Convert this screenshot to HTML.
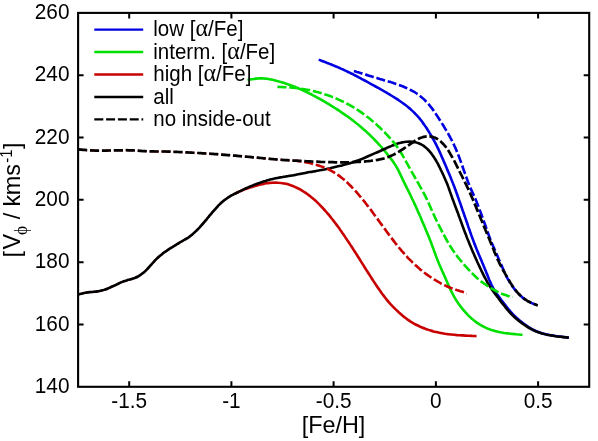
<!DOCTYPE html>
<html><head><meta charset="utf-8"><title>chart</title>
<style>
html,body{margin:0;padding:0;background:#fff;}
body{width:598px;height:441px;overflow:hidden;font-family:"Liberation Sans",sans-serif;}
svg{display:block;will-change:transform;}
text{font-family:"Liberation Sans",sans-serif;fill:#000;}
.sym{font-family:"Liberation Serif",serif;}
.al{font-family:"Liberation Serif",serif;font-size:24px;}
</style></head><body>
<svg width="598" height="441" viewBox="0 0 598 441">
<rect width="598" height="441" fill="#fff"/>
<g>
<path d="M318.7 59.6 C319.2 59.8 320.6 60.3 321.5 60.7 C322.4 61.0 323.4 61.4 324.3 61.8 C325.2 62.1 326.2 62.5 327.1 62.9 C328.0 63.2 328.9 63.6 329.9 64.0 C330.8 64.3 331.7 64.7 332.7 65.1 C333.6 65.5 334.5 65.9 335.4 66.3 C336.3 66.6 337.3 67.0 338.2 67.4 C339.1 67.8 340.0 68.2 340.9 68.6 C341.9 69.0 342.8 69.4 343.7 69.8 C344.6 70.3 345.5 70.7 346.4 71.1 C347.3 71.5 348.2 72.0 349.1 72.4 C350.0 72.8 350.9 73.3 351.8 73.7 C352.7 74.2 353.6 74.6 354.5 75.1 C355.3 75.6 356.2 76.0 357.1 76.5 C358.0 77.0 358.9 77.4 359.8 77.9 C360.7 78.4 361.5 78.8 362.4 79.3 C363.3 79.8 364.2 80.2 365.1 80.7 C365.9 81.2 366.8 81.7 367.7 82.1 C368.6 82.6 369.5 83.1 370.3 83.6 C371.2 84.1 372.1 84.5 373.0 85.0 C373.8 85.5 374.7 86.0 375.6 86.5 C376.5 87.0 377.3 87.5 378.2 87.9 C379.1 88.4 379.9 88.9 380.8 89.4 C381.7 89.9 382.6 90.4 383.4 90.9 C384.3 91.4 385.2 91.9 386.0 92.4 C386.9 92.9 387.7 93.4 388.6 93.9 C389.5 94.4 390.3 94.9 391.2 95.5 C392.0 96.0 392.9 96.5 393.7 97.0 C394.6 97.6 395.4 98.1 396.3 98.6 C397.1 99.2 398.0 99.7 398.8 100.3 C399.6 100.8 400.4 101.4 401.3 102.0 C402.1 102.5 402.9 103.1 403.7 103.7 C404.5 104.3 405.3 104.9 406.1 105.5 C406.9 106.1 407.7 106.7 408.4 107.4 C409.2 108.0 410.0 108.7 410.7 109.3 C411.4 110.0 412.2 110.7 412.9 111.4 C413.6 112.1 414.3 112.8 415.0 113.5 C415.7 114.2 416.4 114.9 417.1 115.6 C417.8 116.4 418.4 117.1 419.1 117.9 C419.7 118.7 420.3 119.4 420.9 120.2 C421.6 121.0 422.2 121.8 422.7 122.6 C423.3 123.4 423.9 124.2 424.5 125.1 C425.0 125.9 425.6 126.7 426.2 127.5 C426.7 128.4 427.3 129.2 427.8 130.1 C428.3 130.9 428.9 131.7 429.4 132.6 C429.9 133.4 430.4 134.3 430.9 135.2 C431.4 136.0 431.9 136.9 432.4 137.8 C432.9 138.6 433.4 139.5 433.9 140.4 C434.4 141.3 434.9 142.1 435.3 143.0 C435.8 143.9 436.2 144.8 436.7 145.7 C437.1 146.6 437.6 147.5 438.0 148.4 C438.4 149.3 438.9 150.2 439.3 151.1 C439.7 152.0 440.1 152.9 440.5 153.8 C440.9 154.7 441.3 155.7 441.7 156.6 C442.1 157.5 442.5 158.4 442.9 159.3 C443.3 160.2 443.7 161.2 444.1 162.1 C444.5 163.0 444.9 163.9 445.3 164.8 C445.7 165.8 446.1 166.7 446.5 167.6 C446.8 168.5 447.2 169.4 447.6 170.4 C448.0 171.3 448.4 172.2 448.8 173.1 C449.2 174.0 449.6 175.0 450.0 175.9 C450.3 176.8 450.7 177.7 451.1 178.7 C451.5 179.6 451.9 180.5 452.2 181.4 C452.6 182.4 453.0 183.3 453.3 184.2 C453.7 185.2 454.0 186.1 454.4 187.0 C454.8 188.0 455.1 188.9 455.4 189.8 C455.8 190.8 456.1 191.7 456.5 192.7 C456.8 193.6 457.1 194.6 457.5 195.5 C457.8 196.4 458.1 197.4 458.5 198.3 C458.8 199.3 459.1 200.2 459.5 201.2 C459.8 202.1 460.1 203.0 460.5 204.0 C460.8 204.9 461.1 205.9 461.4 206.8 C461.8 207.8 462.1 208.7 462.4 209.7 C462.8 210.6 463.1 211.5 463.4 212.5 C463.7 213.4 464.1 214.4 464.4 215.3 C464.7 216.3 465.1 217.2 465.4 218.2 C465.7 219.1 466.0 220.0 466.4 221.0 C466.7 221.9 467.0 222.9 467.3 223.8 C467.7 224.8 468.0 225.7 468.3 226.7 C468.7 227.6 469.0 228.5 469.3 229.5 C469.6 230.4 470.0 231.4 470.3 232.3 C470.6 233.3 471.0 234.2 471.3 235.2 C471.6 236.1 472.0 237.0 472.3 238.0 C472.7 238.9 473.0 239.9 473.4 240.8 C473.7 241.7 474.1 242.7 474.4 243.6 C474.8 244.5 475.2 245.5 475.5 246.4 C475.9 247.3 476.3 248.2 476.6 249.2 C477.0 250.1 477.4 251.0 477.8 251.9 C478.2 252.9 478.5 253.8 478.9 254.7 C479.3 255.6 479.7 256.6 480.1 257.5 C480.5 258.4 480.9 259.3 481.3 260.2 C481.6 261.2 482.0 262.1 482.4 263.0 C482.8 263.9 483.2 264.8 483.6 265.8 C484.0 266.7 484.4 267.6 484.7 268.5 C485.1 269.5 485.5 270.4 485.9 271.3 C486.2 272.2 486.6 273.2 487.0 274.1 C487.4 275.0 487.7 276.0 488.1 276.9 C488.5 277.8 488.8 278.7 489.2 279.7 C489.6 280.6 490.0 281.5 490.4 282.4 C490.8 283.3 491.2 284.2 491.6 285.1 C492.1 286.0 492.5 286.9 493.0 287.8 C493.5 288.7 494.0 289.5 494.5 290.4 C495.1 291.2 495.6 292.0 496.2 292.9 C496.7 293.7 497.3 294.5 497.9 295.3 C498.5 296.1 499.1 296.9 499.7 297.7 C500.3 298.5 500.9 299.4 501.5 300.2 C502.1 301.0 502.7 301.8 503.3 302.5 C503.9 303.3 504.5 304.1 505.1 304.9 C505.7 305.7 506.3 306.5 506.9 307.3 C507.5 308.1 508.1 308.9 508.8 309.6 C509.4 310.4 510.1 311.2 510.7 311.9 C511.4 312.7 512.1 313.4 512.7 314.1 C513.4 314.9 514.1 315.6 514.9 316.2 C515.6 316.9 516.3 317.6 517.1 318.3 C517.8 318.9 518.6 319.6 519.3 320.2 C520.1 320.9 520.9 321.5 521.7 322.1 C522.5 322.7 523.2 323.3 524.1 323.9 C524.9 324.5 525.7 325.1 526.5 325.7 C527.3 326.2 528.1 326.8 529.0 327.3 C529.8 327.8 530.7 328.4 531.5 328.8 C532.4 329.3 533.3 329.8 534.2 330.2 C535.1 330.7 536.0 331.1 536.9 331.5 C537.8 331.8 538.8 332.2 539.7 332.5 C540.6 332.8 541.6 333.1 542.5 333.4 C543.5 333.7 544.5 333.9 545.4 334.2 C546.4 334.4 547.4 334.6 548.4 334.8 C549.3 335.0 550.3 335.2 551.3 335.4 C552.3 335.5 553.3 335.7 554.3 335.8 C555.3 336.0 556.2 336.1 557.2 336.3 C558.2 336.4 559.2 336.5 560.2 336.6 C561.2 336.7 562.1 336.9 563.1 337.0 C564.1 337.1 565.0 337.2 566.0 337.3 C566.9 337.4 568.3 337.5 568.8 337.6" fill="none" stroke="#0000e0" stroke-width="2.6"/>
<path d="M247.5 80.0 C248.0 79.9 249.5 79.6 250.4 79.4 C251.4 79.3 252.4 79.1 253.4 79.0 C254.4 78.8 255.4 78.7 256.3 78.6 C257.3 78.5 258.3 78.5 259.3 78.4 C260.3 78.4 261.3 78.4 262.3 78.4 C263.3 78.5 264.3 78.5 265.3 78.6 C266.3 78.7 267.3 78.9 268.2 79.0 C269.2 79.2 270.2 79.3 271.2 79.5 C272.2 79.7 273.1 80.0 274.1 80.2 C275.1 80.4 276.0 80.7 277.0 81.0 C278.0 81.2 278.9 81.5 279.9 81.8 C280.9 82.0 281.8 82.3 282.8 82.6 C283.7 82.9 284.7 83.2 285.6 83.5 C286.6 83.8 287.5 84.1 288.5 84.5 C289.4 84.8 290.3 85.1 291.3 85.5 C292.2 85.8 293.2 86.2 294.1 86.6 C295.0 86.9 295.9 87.3 296.9 87.7 C297.8 88.1 298.7 88.5 299.6 88.9 C300.5 89.3 301.4 89.7 302.4 90.1 C303.3 90.5 304.2 90.9 305.1 91.4 C306.0 91.8 306.9 92.2 307.8 92.7 C308.7 93.1 309.6 93.6 310.5 94.0 C311.4 94.5 312.2 94.9 313.1 95.4 C314.0 95.8 314.9 96.3 315.8 96.8 C316.7 97.2 317.5 97.7 318.4 98.2 C319.3 98.7 320.2 99.2 321.1 99.6 C321.9 100.1 322.8 100.6 323.7 101.1 C324.5 101.6 325.4 102.1 326.2 102.6 C327.1 103.2 328.0 103.7 328.8 104.2 C329.7 104.7 330.5 105.2 331.4 105.8 C332.2 106.3 333.1 106.8 333.9 107.3 C334.8 107.9 335.6 108.4 336.4 109.0 C337.3 109.5 338.1 110.0 339.0 110.6 C339.8 111.1 340.6 111.7 341.5 112.3 C342.3 112.8 343.1 113.4 343.9 114.0 C344.8 114.5 345.6 115.1 346.4 115.7 C347.2 116.3 348.0 116.8 348.8 117.4 C349.6 118.0 350.4 118.6 351.2 119.2 C352.0 119.8 352.8 120.4 353.6 121.1 C354.4 121.7 355.2 122.3 356.0 122.9 C356.7 123.5 357.5 124.2 358.3 124.8 C359.1 125.4 359.8 126.1 360.6 126.7 C361.4 127.4 362.1 128.0 362.9 128.7 C363.6 129.3 364.4 130.0 365.1 130.6 C365.9 131.3 366.6 132.0 367.3 132.7 C368.1 133.3 368.8 134.0 369.5 134.7 C370.2 135.4 371.0 136.1 371.7 136.8 C372.4 137.5 373.1 138.2 373.8 138.9 C374.5 139.6 375.2 140.4 375.9 141.1 C376.6 141.8 377.3 142.5 377.9 143.3 C378.6 144.0 379.3 144.7 380.0 145.5 C380.6 146.2 381.3 147.0 382.0 147.7 C382.6 148.5 383.3 149.2 383.9 150.0 C384.6 150.7 385.2 151.5 385.8 152.3 C386.5 153.1 387.1 153.8 387.7 154.6 C388.4 155.4 389.0 156.2 389.6 157.0 C390.2 157.8 390.8 158.6 391.4 159.4 C392.0 160.2 392.6 161.0 393.2 161.8 C393.7 162.6 394.3 163.4 394.8 164.3 C395.4 165.1 395.9 165.9 396.4 166.8 C396.9 167.7 397.4 168.5 397.9 169.4 C398.3 170.3 398.8 171.2 399.2 172.1 C399.6 173.0 400.1 173.9 400.5 174.8 C400.9 175.7 401.3 176.6 401.8 177.5 C402.2 178.4 402.6 179.3 403.0 180.2 C403.5 181.1 403.9 182.0 404.4 182.9 C404.8 183.8 405.2 184.7 405.7 185.6 C406.1 186.5 406.6 187.4 407.0 188.3 C407.5 189.2 407.9 190.1 408.4 191.0 C408.8 191.9 409.3 192.8 409.7 193.7 C410.2 194.6 410.6 195.5 411.0 196.4 C411.5 197.3 411.9 198.2 412.3 199.1 C412.8 200.0 413.2 200.9 413.6 201.8 C414.0 202.7 414.4 203.6 414.9 204.5 C415.3 205.4 415.7 206.3 416.1 207.2 C416.5 208.1 416.9 209.1 417.3 210.0 C417.7 210.9 418.1 211.8 418.5 212.7 C418.9 213.6 419.4 214.5 419.8 215.5 C420.2 216.4 420.6 217.3 421.0 218.2 C421.4 219.1 421.7 220.0 422.1 221.0 C422.5 221.9 422.9 222.8 423.3 223.7 C423.7 224.6 424.1 225.6 424.5 226.5 C424.9 227.4 425.3 228.3 425.6 229.2 C426.0 230.2 426.4 231.1 426.8 232.0 C427.2 232.9 427.6 233.9 427.9 234.8 C428.3 235.7 428.7 236.6 429.1 237.6 C429.4 238.5 429.8 239.4 430.2 240.4 C430.5 241.3 430.9 242.2 431.3 243.2 C431.6 244.1 432.0 245.0 432.3 246.0 C432.7 246.9 433.0 247.8 433.4 248.8 C433.7 249.7 434.0 250.7 434.4 251.6 C434.7 252.5 435.1 253.5 435.4 254.4 C435.7 255.4 436.1 256.3 436.4 257.2 C436.8 258.2 437.2 259.1 437.5 260.0 C437.9 261.0 438.3 261.9 438.7 262.8 C439.0 263.7 439.4 264.6 439.8 265.6 C440.2 266.5 440.6 267.4 441.0 268.3 C441.4 269.2 441.8 270.1 442.2 271.1 C442.6 272.0 443.1 272.9 443.5 273.8 C443.9 274.7 444.3 275.6 444.7 276.5 C445.1 277.5 445.5 278.4 445.9 279.3 C446.3 280.2 446.7 281.1 447.1 282.0 C447.5 283.0 447.9 283.9 448.3 284.8 C448.7 285.7 449.1 286.6 449.5 287.5 C449.9 288.4 450.3 289.3 450.8 290.2 C451.2 291.1 451.6 292.0 452.1 292.9 C452.6 293.8 453.0 294.7 453.5 295.6 C454.0 296.5 454.5 297.3 455.0 298.2 C455.5 299.0 456.0 299.9 456.6 300.7 C457.1 301.6 457.7 302.4 458.2 303.2 C458.8 304.0 459.4 304.8 460.0 305.6 C460.6 306.4 461.2 307.2 461.8 308.0 C462.4 308.8 463.1 309.6 463.7 310.3 C464.4 311.1 465.0 311.8 465.7 312.6 C466.4 313.3 467.1 314.0 467.7 314.8 C468.4 315.5 469.1 316.2 469.9 316.9 C470.6 317.6 471.3 318.2 472.1 318.9 C472.8 319.5 473.6 320.2 474.4 320.8 C475.2 321.4 476.0 322.0 476.8 322.6 C477.6 323.2 478.4 323.7 479.3 324.2 C480.1 324.8 481.0 325.3 481.8 325.8 C482.7 326.2 483.6 326.7 484.5 327.1 C485.4 327.6 486.3 328.0 487.2 328.4 C488.1 328.7 489.0 329.1 490.0 329.5 C490.9 329.8 491.9 330.1 492.8 330.4 C493.8 330.7 494.7 331.0 495.7 331.2 C496.7 331.5 497.6 331.7 498.6 331.9 C499.6 332.1 500.6 332.3 501.5 332.5 C502.5 332.7 503.5 332.8 504.5 333.0 C505.5 333.1 506.5 333.3 507.5 333.4 C508.5 333.5 509.4 333.6 510.4 333.7 C511.4 333.8 512.4 333.9 513.4 334.0 C514.4 334.1 515.3 334.2 516.3 334.3 C517.2 334.3 518.1 334.4 519.0 334.5 C519.9 334.6 521.1 334.7 521.6 334.7 C522.2 334.8 522.4 334.8 522.5 334.8" fill="none" stroke="#00e000" stroke-width="2.6"/>
<path d="M78.1 294.6 C78.6 294.5 80.0 294.1 81.0 293.8 C82.0 293.6 82.9 293.3 83.9 293.1 C84.9 292.9 85.9 292.7 86.8 292.5 C87.8 292.3 88.8 292.2 89.8 292.1 C90.8 292.0 91.8 291.9 92.8 291.9 C93.8 291.8 94.8 291.7 95.8 291.6 C96.8 291.5 97.8 291.3 98.8 291.2 C99.7 291.0 100.7 290.8 101.7 290.5 C102.7 290.3 103.6 290.0 104.6 289.7 C105.5 289.4 106.5 289.1 107.4 288.7 C108.3 288.3 109.2 287.9 110.1 287.5 C111.1 287.1 112.0 286.7 112.9 286.2 C113.8 285.8 114.7 285.4 115.6 285.0 C116.5 284.6 117.4 284.1 118.3 283.7 C119.2 283.3 120.1 282.9 121.0 282.4 C121.9 282.0 122.9 281.7 123.8 281.3 C124.7 281.0 125.7 280.7 126.7 280.4 C127.6 280.1 128.6 279.8 129.5 279.6 C130.5 279.3 131.5 279.1 132.4 278.8 C133.4 278.5 134.3 278.1 135.2 277.8 C136.2 277.4 137.1 277.0 138.0 276.5 C138.8 276.0 139.7 275.5 140.5 274.9 C141.3 274.4 142.1 273.8 142.9 273.1 C143.7 272.5 144.4 271.8 145.2 271.2 C145.9 270.5 146.6 269.8 147.3 269.0 C148.0 268.3 148.6 267.6 149.3 266.8 C150.0 266.1 150.6 265.3 151.3 264.6 C151.9 263.8 152.6 263.0 153.3 262.3 C153.9 261.6 154.6 260.8 155.3 260.1 C156.0 259.4 156.7 258.7 157.5 258.0 C158.2 257.3 158.9 256.7 159.7 256.0 C160.5 255.4 161.3 254.8 162.0 254.2 C162.8 253.5 163.6 252.9 164.4 252.3 C165.2 251.7 166.0 251.2 166.9 250.6 C167.7 250.0 168.5 249.4 169.3 248.9 C170.2 248.4 171.0 247.8 171.9 247.3 C172.7 246.8 173.6 246.3 174.4 245.8 C175.3 245.2 176.2 244.7 177.0 244.2 C177.9 243.7 178.7 243.2 179.6 242.6 C180.4 242.1 181.3 241.6 182.2 241.1 C183.0 240.6 183.9 240.1 184.8 239.6 C185.6 239.1 186.5 238.7 187.4 238.2 C188.2 237.6 189.1 237.1 189.8 236.5 C190.6 235.9 191.4 235.2 192.2 234.6 C192.9 233.9 193.7 233.2 194.4 232.6 C195.1 231.9 195.8 231.2 196.6 230.5 C197.3 229.8 198.0 229.1 198.7 228.4 C199.4 227.6 200.1 226.9 200.7 226.2 C201.4 225.4 202.1 224.7 202.7 223.9 C203.4 223.2 204.0 222.4 204.7 221.6 C205.3 220.9 205.9 220.1 206.6 219.3 C207.2 218.5 207.8 217.8 208.5 217.0 C209.1 216.2 209.7 215.5 210.4 214.7 C211.0 213.9 211.7 213.2 212.3 212.4 C213.0 211.7 213.7 210.9 214.3 210.2 C215.0 209.4 215.6 208.7 216.3 207.9 C217.0 207.2 217.6 206.4 218.3 205.7 C219.0 205.0 219.7 204.3 220.4 203.6 C221.2 202.9 221.9 202.2 222.7 201.5 C223.4 200.9 224.2 200.3 225.0 199.7 C225.8 199.1 226.6 198.5 227.4 198.0 C228.3 197.4 229.1 196.8 230.0 196.3 C230.8 195.8 231.7 195.4 232.6 194.9 C233.5 194.4 234.4 194.0 235.3 193.5 C236.2 193.1 237.5 192.4 238.0 192.2" fill="none" stroke="#c80000" stroke-width="1.9"/>
<path d="M235.3 193.5 C235.7 193.3 237.1 192.6 238.0 192.2 C238.9 191.8 239.8 191.4 240.7 191.0 C241.6 190.6 242.5 190.2 243.5 189.8 C244.4 189.5 245.3 189.1 246.3 188.8 C247.2 188.4 248.2 188.1 249.1 187.8 C250.1 187.5 251.0 187.2 252.0 186.9 C252.9 186.6 253.9 186.3 254.8 186.0 C255.8 185.8 256.8 185.5 257.7 185.2 C258.7 185.0 259.7 184.7 260.6 184.5 C261.6 184.3 262.6 184.1 263.6 183.9 C264.5 183.7 265.5 183.5 266.5 183.3 C267.5 183.2 268.5 183.0 269.5 182.9 C270.5 182.8 271.5 182.7 272.4 182.7 C273.4 182.6 274.4 182.6 275.4 182.6 C276.4 182.6 277.4 182.6 278.4 182.7 C279.4 182.7 280.4 182.8 281.4 183.0 C282.4 183.1 283.3 183.3 284.3 183.5 C285.3 183.7 286.3 183.9 287.2 184.1 C288.2 184.4 289.1 184.7 290.1 185.0 C291.0 185.3 292.0 185.6 292.9 186.0 C293.8 186.4 294.7 186.7 295.6 187.2 C296.5 187.6 297.4 188.0 298.3 188.5 C299.2 188.9 300.1 189.4 301.0 189.9 C301.8 190.4 302.7 190.9 303.5 191.5 C304.3 192.0 305.2 192.5 306.0 193.1 C306.8 193.7 307.6 194.3 308.4 194.9 C309.2 195.5 310.0 196.1 310.8 196.7 C311.6 197.3 312.3 198.0 313.1 198.6 C313.8 199.3 314.6 199.9 315.3 200.6 C316.1 201.3 316.8 202.0 317.5 202.7 C318.2 203.4 318.9 204.1 319.7 204.8 C320.4 205.5 321.0 206.2 321.7 206.9 C322.4 207.6 323.1 208.4 323.8 209.1 C324.4 209.9 325.1 210.6 325.8 211.4 C326.4 212.1 327.1 212.9 327.7 213.6 C328.4 214.4 329.0 215.2 329.7 215.9 C330.3 216.7 330.9 217.5 331.5 218.3 C332.2 219.0 332.8 219.8 333.4 220.6 C334.0 221.4 334.6 222.2 335.2 223.0 C335.8 223.8 336.4 224.6 337.0 225.4 C337.6 226.2 338.2 227.0 338.8 227.8 C339.4 228.6 339.9 229.4 340.5 230.3 C341.1 231.1 341.7 231.9 342.2 232.7 C342.8 233.5 343.4 234.4 344.0 235.2 C344.5 236.0 345.1 236.8 345.6 237.7 C346.2 238.5 346.8 239.3 347.3 240.2 C347.9 241.0 348.4 241.8 349.0 242.7 C349.5 243.5 350.1 244.3 350.6 245.2 C351.2 246.0 351.7 246.8 352.3 247.7 C352.8 248.5 353.3 249.4 353.9 250.2 C354.4 251.0 355.0 251.9 355.5 252.7 C356.0 253.6 356.6 254.4 357.1 255.3 C357.6 256.1 358.2 257.0 358.7 257.8 C359.2 258.6 359.8 259.5 360.3 260.3 C360.8 261.2 361.4 262.0 361.9 262.9 C362.4 263.7 363.0 264.6 363.5 265.4 C364.0 266.3 364.6 267.1 365.1 268.0 C365.6 268.8 366.2 269.6 366.7 270.5 C367.2 271.3 367.8 272.2 368.3 273.0 C368.8 273.9 369.4 274.7 369.9 275.5 C370.5 276.4 371.0 277.2 371.5 278.1 C372.1 278.9 372.6 279.7 373.2 280.6 C373.7 281.4 374.3 282.3 374.8 283.1 C375.4 283.9 375.9 284.8 376.5 285.6 C377.1 286.4 377.6 287.2 378.2 288.1 C378.8 288.9 379.3 289.7 379.9 290.5 C380.5 291.3 381.1 292.2 381.6 293.0 C382.2 293.8 382.8 294.6 383.4 295.4 C384.0 296.2 384.6 297.0 385.2 297.8 C385.8 298.6 386.5 299.3 387.1 300.1 C387.7 300.9 388.4 301.7 389.0 302.4 C389.7 303.2 390.3 303.9 391.0 304.7 C391.7 305.4 392.4 306.1 393.1 306.8 C393.8 307.5 394.5 308.2 395.2 308.9 C395.9 309.6 396.6 310.3 397.4 311.0 C398.1 311.7 398.8 312.4 399.6 313.0 C400.3 313.7 401.1 314.3 401.8 315.0 C402.6 315.6 403.4 316.3 404.1 316.9 C404.9 317.5 405.7 318.2 406.5 318.7 C407.3 319.3 408.1 319.9 408.9 320.5 C409.8 321.0 410.6 321.6 411.5 322.1 C412.3 322.6 413.2 323.1 414.0 323.6 C414.9 324.1 415.8 324.6 416.7 325.0 C417.6 325.5 418.5 325.9 419.4 326.3 C420.3 326.8 421.2 327.2 422.1 327.5 C423.0 327.9 424.0 328.3 424.9 328.6 C425.8 329.0 426.8 329.3 427.7 329.6 C428.7 330.0 429.6 330.3 430.6 330.5 C431.5 330.8 432.5 331.1 433.5 331.4 C434.4 331.6 435.4 331.9 436.4 332.1 C437.3 332.3 438.3 332.5 439.3 332.7 C440.3 332.9 441.2 333.1 442.2 333.3 C443.2 333.5 444.2 333.6 445.2 333.8 C446.2 333.9 447.2 334.1 448.2 334.2 C449.1 334.3 450.1 334.4 451.1 334.5 C452.1 334.6 453.1 334.7 454.1 334.8 C455.1 334.9 456.1 335.0 457.1 335.1 C458.1 335.1 459.1 335.2 460.1 335.3 C461.1 335.3 462.1 335.4 463.1 335.4 C464.1 335.5 465.1 335.6 466.1 335.6 C467.1 335.7 468.1 335.7 469.0 335.8 C470.0 335.8 471.0 335.8 471.9 335.9 C472.8 335.9 473.9 336.0 474.7 336.0 C475.4 336.1 476.2 336.1 476.5 336.1" fill="none" stroke="#c80000" stroke-width="2.6"/>
<path d="M78.1 294.6 C78.6 294.5 80.0 294.1 81.0 293.8 C82.0 293.6 82.9 293.3 83.9 293.1 C84.9 292.9 85.9 292.7 86.8 292.5 C87.8 292.3 88.8 292.2 89.8 292.1 C90.8 292.0 91.8 291.9 92.8 291.9 C93.8 291.8 94.8 291.7 95.8 291.6 C96.8 291.5 97.8 291.3 98.8 291.2 C99.7 291.0 100.7 290.8 101.7 290.5 C102.7 290.3 103.6 290.0 104.6 289.7 C105.5 289.4 106.5 289.1 107.4 288.7 C108.3 288.3 109.2 287.9 110.1 287.5 C111.1 287.1 112.0 286.7 112.9 286.2 C113.8 285.8 114.7 285.4 115.6 285.0 C116.5 284.6 117.4 284.1 118.3 283.7 C119.2 283.3 120.1 282.9 121.0 282.4 C121.9 282.0 122.9 281.7 123.8 281.3 C124.7 281.0 125.7 280.7 126.7 280.4 C127.6 280.1 128.6 279.8 129.5 279.6 C130.5 279.3 131.5 279.1 132.4 278.8 C133.4 278.5 134.3 278.1 135.2 277.8 C136.2 277.4 137.1 277.0 138.0 276.5 C138.8 276.0 139.7 275.5 140.5 274.9 C141.3 274.4 142.1 273.8 142.9 273.1 C143.7 272.5 144.4 271.8 145.2 271.2 C145.9 270.5 146.6 269.8 147.3 269.0 C148.0 268.3 148.6 267.6 149.3 266.8 C150.0 266.1 150.6 265.3 151.3 264.6 C151.9 263.8 152.6 263.0 153.3 262.3 C153.9 261.6 154.6 260.8 155.3 260.1 C156.0 259.4 156.7 258.7 157.5 258.0 C158.2 257.3 158.9 256.7 159.7 256.0 C160.5 255.4 161.3 254.8 162.0 254.2 C162.8 253.5 163.6 252.9 164.4 252.3 C165.2 251.7 166.0 251.2 166.9 250.6 C167.7 250.0 168.5 249.4 169.3 248.9 C170.2 248.4 171.0 247.8 171.9 247.3 C172.7 246.8 173.6 246.3 174.4 245.8 C175.3 245.2 176.2 244.7 177.0 244.2 C177.9 243.7 178.7 243.2 179.6 242.6 C180.4 242.1 181.3 241.6 182.2 241.1 C183.0 240.6 183.9 240.1 184.8 239.6 C185.6 239.1 186.5 238.7 187.4 238.2 C188.2 237.6 189.1 237.1 189.8 236.5 C190.6 235.9 191.4 235.2 192.2 234.6 C192.9 233.9 193.7 233.2 194.4 232.6 C195.1 231.9 195.8 231.2 196.6 230.5 C197.3 229.8 198.0 229.1 198.7 228.4 C199.4 227.6 200.1 226.9 200.7 226.2 C201.4 225.4 202.1 224.7 202.7 223.9 C203.4 223.2 204.0 222.4 204.7 221.6 C205.3 220.9 205.9 220.1 206.6 219.3 C207.2 218.5 207.8 217.8 208.5 217.0 C209.1 216.2 209.7 215.5 210.4 214.7 C211.0 213.9 211.7 213.2 212.3 212.4 C213.0 211.7 213.7 210.9 214.3 210.2 C215.0 209.4 215.6 208.7 216.3 207.9 C217.0 207.2 217.6 206.4 218.3 205.7 C219.0 205.0 219.7 204.3 220.4 203.6 C221.2 202.9 221.9 202.2 222.7 201.5 C223.4 200.9 224.2 200.3 225.0 199.7 C225.8 199.1 226.6 198.5 227.4 198.0 C228.3 197.4 229.1 196.9 230.0 196.3 C230.8 195.8 231.7 195.4 232.6 194.9 C233.5 194.4 234.4 194.0 235.3 193.5 C236.2 193.1 237.1 192.6 238.0 192.2 C238.8 191.7 239.7 191.3 240.7 190.9 C241.6 190.4 242.5 190.0 243.4 189.6 C244.3 189.2 245.2 188.7 246.1 188.3 C247.0 187.9 247.9 187.5 248.8 187.1 C249.7 186.7 250.7 186.3 251.6 185.9 C252.5 185.5 253.4 185.2 254.3 184.8 C255.3 184.4 256.2 184.1 257.1 183.7 C258.1 183.4 259.0 183.0 260.0 182.7 C260.9 182.4 261.9 182.1 262.8 181.8 C263.8 181.5 264.7 181.2 265.7 180.9 C266.6 180.6 267.6 180.3 268.6 180.1 C269.5 179.8 270.5 179.5 271.5 179.3 C272.4 179.1 273.4 178.8 274.4 178.6 C275.4 178.4 276.3 178.2 277.3 178.0 C278.3 177.8 279.3 177.6 280.3 177.4 C281.2 177.3 282.2 177.1 283.2 176.9 C284.2 176.8 285.2 176.6 286.2 176.4 C287.2 176.3 288.1 176.1 289.1 175.9 C290.1 175.8 291.1 175.6 292.1 175.4 C293.1 175.2 294.1 175.1 295.0 174.9 C296.0 174.7 297.0 174.5 298.0 174.3 C299.0 174.1 300.0 174.0 300.9 173.8 C301.9 173.6 302.9 173.4 303.9 173.2 C304.9 173.0 305.8 172.8 306.8 172.6 C307.8 172.5 308.8 172.3 309.8 172.1 C310.8 171.9 311.7 171.7 312.7 171.6 C313.7 171.4 314.7 171.2 315.7 171.1 C316.7 170.9 317.7 170.7 318.6 170.5 C319.6 170.4 320.6 170.2 321.6 170.0 C322.6 169.8 323.5 169.6 324.5 169.4 C325.5 169.2 326.5 169.0 327.5 168.8 C328.4 168.6 329.4 168.4 330.4 168.2 C331.4 167.9 332.3 167.7 333.3 167.5 C334.3 167.3 335.3 167.1 336.2 166.8 C337.2 166.6 338.2 166.4 339.2 166.1 C340.1 165.9 341.1 165.6 342.1 165.4 C343.0 165.2 344.0 164.9 345.0 164.6 C345.9 164.4 346.9 164.1 347.9 163.8 C348.8 163.6 349.8 163.3 350.7 163.0 C351.7 162.7 352.6 162.4 353.6 162.0 C354.5 161.7 355.5 161.4 356.4 161.0 C357.3 160.7 358.3 160.3 359.2 160.0 C360.1 159.6 361.1 159.2 362.0 158.9 C362.9 158.5 363.8 158.1 364.8 157.7 C365.7 157.3 366.6 156.9 367.5 156.5 C368.4 156.1 369.3 155.7 370.3 155.3 C371.2 154.9 372.1 154.5 373.0 154.1 C373.9 153.7 374.8 153.3 375.7 152.9 C376.7 152.5 377.6 152.1 378.5 151.7 C379.4 151.3 380.3 150.9 381.2 150.5 C382.1 150.0 383.1 149.6 384.0 149.2 C384.9 148.8 385.8 148.4 386.7 148.0 C387.6 147.6 388.6 147.2 389.5 146.8 C390.4 146.4 391.3 146.0 392.2 145.6 C393.1 145.3 394.1 144.9 395.0 144.5 C395.9 144.2 396.9 143.8 397.8 143.5 C398.8 143.2 399.7 142.9 400.7 142.7 C401.6 142.4 402.6 142.2 403.6 142.1 C404.5 141.9 405.5 141.8 406.5 141.7 C407.5 141.6 408.5 141.6 409.5 141.6 C410.5 141.6 411.4 141.6 412.4 141.7 C413.4 141.9 414.4 142.0 415.3 142.2 C416.3 142.4 417.2 142.7 418.1 143.1 C419.0 143.4 419.9 143.8 420.8 144.2 C421.7 144.7 422.5 145.2 423.3 145.7 C424.2 146.3 424.9 146.9 425.7 147.5 C426.4 148.1 427.2 148.8 427.9 149.5 C428.6 150.2 429.2 151.0 429.9 151.7 C430.5 152.5 431.2 153.2 431.7 154.0 C432.3 154.8 432.9 155.6 433.5 156.5 C434.0 157.3 434.6 158.1 435.1 159.0 C435.6 159.8 436.1 160.7 436.6 161.6 C437.1 162.4 437.6 163.3 438.1 164.2 C438.5 165.1 439.0 166.0 439.4 166.9 C439.9 167.8 440.3 168.7 440.7 169.6 C441.2 170.5 441.6 171.4 442.0 172.3 C442.4 173.2 442.9 174.1 443.3 175.0 C443.7 175.9 444.1 176.8 444.5 177.7 C444.9 178.6 445.3 179.5 445.7 180.5 C446.1 181.4 446.5 182.3 446.9 183.2 C447.2 184.2 447.6 185.1 448.0 186.0 C448.3 187.0 448.7 187.9 449.0 188.8 C449.3 189.8 449.7 190.7 450.0 191.7 C450.3 192.6 450.7 193.5 451.0 194.5 C451.3 195.4 451.7 196.4 452.0 197.3 C452.3 198.3 452.7 199.2 453.0 200.1 C453.4 201.1 453.7 202.0 454.1 203.0 C454.4 203.9 454.8 204.8 455.1 205.8 C455.5 206.7 455.8 207.6 456.2 208.6 C456.5 209.5 456.9 210.4 457.2 211.4 C457.6 212.3 457.9 213.3 458.3 214.2 C458.6 215.1 458.9 216.1 459.3 217.0 C459.6 218.0 460.0 218.9 460.3 219.8 C460.7 220.8 461.0 221.7 461.4 222.6 C461.7 223.6 462.0 224.5 462.4 225.5 C462.7 226.4 463.1 227.3 463.4 228.3 C463.8 229.2 464.1 230.1 464.5 231.1 C464.8 232.0 465.2 233.0 465.6 233.9 C465.9 234.8 466.3 235.8 466.6 236.7 C467.0 237.6 467.4 238.5 467.7 239.5 C468.1 240.4 468.5 241.3 468.9 242.3 C469.2 243.2 469.6 244.1 470.0 245.0 C470.4 246.0 470.8 246.9 471.2 247.8 C471.5 248.7 471.9 249.6 472.3 250.6 C472.7 251.5 473.1 252.4 473.5 253.3 C473.9 254.2 474.3 255.2 474.7 256.1 C475.1 257.0 475.5 257.9 475.9 258.8 C476.3 259.7 476.7 260.6 477.1 261.6 C477.6 262.5 478.0 263.4 478.4 264.3 C478.8 265.2 479.2 266.1 479.7 267.0 C480.1 267.9 480.5 268.8 481.0 269.7 C481.4 270.6 481.8 271.5 482.3 272.4 C482.7 273.3 483.1 274.2 483.6 275.1 C484.0 276.0 484.5 276.9 485.0 277.8 C485.4 278.7 485.9 279.5 486.4 280.4 C486.8 281.3 487.3 282.1 487.8 283.0 C488.4 283.9 488.9 284.7 489.4 285.6 C489.9 286.4 490.5 287.3 491.0 288.1 C491.6 288.9 492.2 289.7 492.7 290.6 C493.3 291.4 493.9 292.2 494.5 293.0 C495.1 293.8 495.7 294.6 496.3 295.4 C496.9 296.2 497.5 297.0 498.1 297.8 C498.7 298.6 499.3 299.4 499.9 300.2 C500.5 301.0 501.1 301.8 501.7 302.6 C502.3 303.3 503.0 304.1 503.6 304.9 C504.2 305.7 504.8 306.5 505.4 307.3 C506.1 308.1 506.7 308.8 507.3 309.6 C508.0 310.4 508.6 311.1 509.3 311.9 C509.9 312.6 510.6 313.4 511.3 314.1 C512.0 314.8 512.7 315.5 513.4 316.2 C514.1 316.9 514.9 317.5 515.6 318.2 C516.4 318.8 517.2 319.5 517.9 320.1 C518.7 320.7 519.5 321.3 520.3 322.0 C521.1 322.6 521.9 323.1 522.7 323.7 C523.5 324.3 524.3 324.9 525.2 325.4 C526.0 326.0 526.8 326.5 527.7 327.1 C528.5 327.6 529.4 328.1 530.3 328.6 C531.1 329.1 532.0 329.5 532.9 330.0 C533.8 330.4 534.7 330.8 535.6 331.2 C536.5 331.6 537.5 331.9 538.4 332.3 C539.3 332.6 540.3 332.9 541.2 333.2 C542.2 333.5 543.2 333.7 544.1 334.0 C545.1 334.2 546.1 334.4 547.1 334.7 C548.0 334.9 549.0 335.0 550.0 335.2 C551.0 335.4 552.0 335.6 552.9 335.7 C553.9 335.9 554.9 336.0 555.9 336.2 C556.9 336.3 557.9 336.4 558.9 336.6 C559.9 336.7 560.9 336.8 561.9 336.9 C562.9 337.0 563.8 337.2 564.8 337.3 C565.8 337.4 567.1 337.5 567.8 337.6 C568.5 337.7 568.6 337.7 568.8 337.7" fill="none" stroke="#000000" stroke-width="2.6"/>
<path d="M353.9 71.0 C354.4 71.1 355.8 71.6 356.8 71.9 C357.7 72.1 358.7 72.4 359.7 72.7 C360.6 73.0 361.6 73.3 362.5 73.6 C363.5 73.9 364.4 74.2 365.4 74.5 C366.3 74.8 367.3 75.1 368.3 75.4 C369.2 75.7 370.2 76.0 371.1 76.2 C372.1 76.5 373.0 76.8 374.0 77.1 C374.9 77.4 375.9 77.7 376.9 78.0 C377.8 78.3 378.8 78.6 379.7 78.9 C380.7 79.1 381.6 79.4 382.6 79.7 C383.6 80.0 384.5 80.3 385.5 80.6 C386.4 80.9 387.4 81.1 388.4 81.4 C389.3 81.7 390.3 82.0 391.2 82.3 C392.2 82.6 393.1 82.9 394.1 83.3 C395.0 83.6 396.0 83.9 396.9 84.2 C397.8 84.6 398.8 84.9 399.7 85.2 C400.7 85.6 401.6 86.0 402.5 86.3 C403.5 86.7 404.4 87.1 405.3 87.5 C406.2 87.9 407.1 88.3 408.0 88.7 C408.9 89.1 409.8 89.6 410.7 90.0 C411.6 90.5 412.5 90.9 413.3 91.4 C414.2 91.9 415.1 92.4 415.9 93.0 C416.7 93.5 417.6 94.1 418.4 94.6 C419.2 95.2 420.0 95.8 420.7 96.5 C421.5 97.1 422.3 97.8 423.0 98.4 C423.7 99.1 424.4 99.8 425.1 100.5 C425.8 101.2 426.5 101.9 427.2 102.7 C427.9 103.4 428.5 104.1 429.2 104.9 C429.8 105.7 430.5 106.4 431.1 107.2 C431.7 108.0 432.3 108.8 432.9 109.6 C433.5 110.4 434.1 111.2 434.6 112.1 C435.2 112.9 435.7 113.7 436.3 114.6 C436.8 115.4 437.4 116.2 437.9 117.1 C438.5 117.9 439.0 118.7 439.5 119.6 C440.1 120.4 440.6 121.3 441.2 122.1 C441.7 123.0 442.2 123.8 442.8 124.7 C443.3 125.5 443.8 126.4 444.3 127.2 C444.9 128.1 445.4 128.9 445.9 129.8 C446.4 130.6 446.9 131.5 447.4 132.4 C447.9 133.2 448.4 134.1 448.9 135.0 C449.4 135.8 449.9 136.7 450.3 137.6 C450.8 138.5 451.3 139.4 451.7 140.2 C452.2 141.1 452.6 142.0 453.1 142.9 C453.5 143.8 453.9 144.7 454.3 145.6 C454.8 146.5 455.2 147.5 455.6 148.4 C456.0 149.3 456.4 150.2 456.7 151.1 C457.1 152.1 457.5 153.0 457.9 153.9 C458.2 154.8 458.6 155.8 459.0 156.7 C459.3 157.6 459.7 158.6 460.0 159.5 C460.4 160.5 460.7 161.4 461.0 162.3 C461.4 163.3 461.7 164.2 462.1 165.2 C462.4 166.1 462.7 167.0 463.0 168.0 C463.4 168.9 463.7 169.9 464.0 170.8 C464.4 171.8 464.7 172.7 465.0 173.6 C465.4 174.6 465.7 175.5 466.0 176.5 C466.4 177.4 466.7 178.4 467.1 179.3 C467.4 180.2 467.7 181.2 468.1 182.1 C468.4 183.0 468.8 184.0 469.2 184.9 C469.5 185.8 469.9 186.8 470.3 187.7 C470.7 188.6 471.1 189.5 471.5 190.4 C471.9 191.3 472.4 192.2 472.8 193.1 C473.2 194.0 473.6 194.9 474.0 195.8 C474.5 196.7 474.9 197.7 475.3 198.6 C475.6 199.5 476.0 200.4 476.4 201.3 C476.8 202.3 477.1 203.2 477.5 204.1 C477.8 205.1 478.2 206.0 478.6 206.9 C478.9 207.9 479.3 208.8 479.6 209.7 C480.0 210.7 480.3 211.6 480.7 212.6 C481.0 213.5 481.4 214.4 481.7 215.4 C482.1 216.3 482.4 217.2 482.7 218.2 C483.1 219.1 483.4 220.1 483.8 221.0 C484.1 221.9 484.4 222.9 484.8 223.8 C485.1 224.8 485.5 225.7 485.8 226.6 C486.1 227.6 486.4 228.5 486.8 229.5 C487.1 230.4 487.4 231.4 487.8 232.3 C488.1 233.3 488.4 234.2 488.8 235.1 C489.1 236.1 489.5 237.0 489.8 237.9 C490.2 238.9 490.5 239.8 490.9 240.7 C491.3 241.7 491.6 242.6 492.0 243.5 C492.4 244.4 492.8 245.4 493.2 246.3 C493.6 247.2 494.0 248.1 494.4 249.0 C494.8 250.0 495.2 250.9 495.6 251.8 C496.0 252.7 496.4 253.6 496.8 254.5 C497.2 255.4 497.6 256.3 498.0 257.3 C498.4 258.2 498.9 259.1 499.2 260.0 C499.6 260.9 500.0 261.8 500.4 262.8 C500.8 263.7 501.2 264.6 501.6 265.5 C502.0 266.5 502.4 267.4 502.7 268.3 C503.1 269.2 503.5 270.1 503.9 271.1 C504.3 272.0 504.7 272.9 505.2 273.8 C505.6 274.7 506.0 275.6 506.5 276.5 C506.9 277.4 507.4 278.2 507.9 279.1 C508.4 280.0 508.9 280.8 509.4 281.7 C509.9 282.5 510.5 283.4 511.0 284.2 C511.6 285.1 512.1 285.9 512.7 286.7 C513.3 287.5 513.9 288.3 514.5 289.1 C515.1 289.9 515.7 290.6 516.4 291.4 C517.0 292.2 517.7 292.9 518.4 293.6 C519.1 294.3 519.8 295.0 520.5 295.7 C521.2 296.4 522.0 297.0 522.8 297.7 C523.5 298.3 524.3 298.9 525.1 299.4 C526.0 300.0 526.8 300.5 527.6 301.0 C528.5 301.5 529.4 302.0 530.2 302.4 C531.1 302.8 532.0 303.2 532.8 303.6 C533.7 303.9 534.5 304.2 535.3 304.5 C536.2 304.9 537.4 305.3 537.8 305.4" fill="none" stroke="#0000e0" stroke-width="2.6" stroke-dasharray="8.990 2.796"/>
<path d="M277.4 86.9 C277.9 86.9 279.4 86.9 280.4 87.0 C281.4 87.0 282.4 87.0 283.4 87.1 C284.4 87.1 285.4 87.1 286.4 87.2 C287.4 87.2 288.4 87.3 289.4 87.4 C290.4 87.5 291.4 87.5 292.4 87.6 C293.4 87.7 294.4 87.8 295.4 87.9 C296.3 88.0 297.3 88.2 298.3 88.3 C299.3 88.4 300.3 88.6 301.3 88.7 C302.3 88.9 303.3 89.0 304.3 89.2 C305.2 89.4 306.2 89.5 307.2 89.7 C308.2 89.9 309.2 90.1 310.1 90.3 C311.1 90.5 312.1 90.7 313.1 91.0 C314.0 91.2 315.0 91.4 316.0 91.7 C317.0 91.9 317.9 92.2 318.9 92.5 C319.8 92.7 320.8 93.0 321.8 93.3 C322.7 93.6 323.7 93.9 324.6 94.2 C325.6 94.5 326.5 94.8 327.5 95.1 C328.4 95.5 329.4 95.8 330.3 96.1 C331.2 96.5 332.2 96.9 333.1 97.2 C334.0 97.6 334.9 98.0 335.9 98.4 C336.8 98.8 337.7 99.2 338.6 99.6 C339.5 100.0 340.4 100.4 341.3 100.8 C342.2 101.3 343.1 101.7 344.0 102.2 C344.9 102.6 345.8 103.1 346.7 103.5 C347.6 104.0 348.4 104.5 349.3 104.9 C350.2 105.4 351.1 105.9 351.9 106.4 C352.8 106.9 353.7 107.4 354.5 108.0 C355.4 108.5 356.2 109.0 357.0 109.5 C357.9 110.1 358.7 110.6 359.5 111.2 C360.4 111.8 361.2 112.3 362.0 112.9 C362.8 113.5 363.6 114.1 364.4 114.7 C365.3 115.3 366.1 115.9 366.8 116.5 C367.6 117.1 368.4 117.7 369.2 118.3 C370.0 118.9 370.8 119.6 371.5 120.2 C372.3 120.8 373.1 121.5 373.8 122.1 C374.6 122.8 375.3 123.5 376.1 124.1 C376.8 124.8 377.5 125.5 378.3 126.2 C379.0 126.8 379.7 127.5 380.5 128.2 C381.2 128.9 381.9 129.6 382.6 130.3 C383.3 131.0 384.0 131.7 384.7 132.4 C385.4 133.2 386.1 133.9 386.8 134.6 C387.5 135.3 388.1 136.1 388.8 136.8 C389.5 137.5 390.2 138.3 390.8 139.0 C391.5 139.8 392.1 140.5 392.8 141.3 C393.4 142.1 394.1 142.8 394.7 143.6 C395.3 144.4 395.9 145.2 396.5 146.0 C397.1 146.8 397.7 147.6 398.3 148.4 C398.9 149.2 399.4 150.1 399.9 150.9 C400.5 151.7 401.0 152.6 401.5 153.5 C402.0 154.3 402.5 155.2 403.0 156.1 C403.5 156.9 403.9 157.8 404.4 158.7 C404.9 159.6 405.4 160.4 405.9 161.3 C406.3 162.2 406.8 163.1 407.3 163.9 C407.8 164.8 408.3 165.7 408.8 166.6 C409.3 167.4 409.7 168.3 410.2 169.2 C410.7 170.1 411.2 170.9 411.7 171.8 C412.2 172.7 412.7 173.5 413.2 174.4 C413.7 175.3 414.2 176.1 414.7 177.0 C415.2 177.9 415.7 178.8 416.2 179.6 C416.7 180.5 417.1 181.4 417.6 182.2 C418.1 183.1 418.6 184.0 419.1 184.8 C419.6 185.7 420.1 186.6 420.6 187.4 C421.1 188.3 421.6 189.2 422.1 190.0 C422.6 190.9 423.0 191.8 423.5 192.7 C424.0 193.6 424.5 194.5 424.9 195.3 C425.4 196.2 425.8 197.1 426.2 198.0 C426.7 198.9 427.1 199.8 427.5 200.7 C427.9 201.6 428.4 202.6 428.8 203.5 C429.2 204.4 429.6 205.3 430.0 206.2 C430.4 207.1 430.8 208.0 431.2 209.0 C431.6 209.9 432.0 210.8 432.4 211.7 C432.8 212.6 433.2 213.5 433.6 214.4 C434.1 215.3 434.5 216.2 434.9 217.2 C435.3 218.1 435.8 219.0 436.2 219.9 C436.6 220.8 437.1 221.7 437.5 222.6 C437.9 223.5 438.4 224.4 438.8 225.2 C439.3 226.1 439.7 227.0 440.2 227.9 C440.7 228.8 441.1 229.7 441.6 230.6 C442.0 231.5 442.5 232.4 443.0 233.2 C443.4 234.1 443.9 235.0 444.4 235.9 C444.9 236.8 445.3 237.6 445.8 238.5 C446.3 239.4 446.8 240.3 447.3 241.1 C447.8 242.0 448.3 242.9 448.8 243.7 C449.3 244.6 449.8 245.5 450.3 246.3 C450.9 247.2 451.4 248.0 451.9 248.8 C452.5 249.7 453.0 250.5 453.6 251.3 C454.2 252.1 454.8 253.0 455.3 253.8 C455.9 254.6 456.5 255.4 457.1 256.2 C457.7 257.0 458.4 257.7 459.0 258.5 C459.6 259.3 460.2 260.1 460.9 260.8 C461.5 261.6 462.2 262.4 462.8 263.1 C463.5 263.9 464.1 264.7 464.8 265.4 C465.4 266.2 466.1 266.9 466.8 267.6 C467.5 268.4 468.1 269.1 468.8 269.8 C469.5 270.6 470.2 271.3 470.9 272.0 C471.6 272.7 472.3 273.4 473.0 274.2 C473.7 274.9 474.4 275.6 475.1 276.2 C475.8 276.9 476.6 277.6 477.3 278.3 C478.1 278.9 478.8 279.6 479.6 280.2 C480.4 280.9 481.2 281.5 482.0 282.1 C482.7 282.7 483.6 283.3 484.4 283.8 C485.2 284.4 486.0 285.0 486.8 285.5 C487.7 286.1 488.5 286.6 489.4 287.1 C490.2 287.7 491.1 288.2 491.9 288.7 C492.8 289.2 493.6 289.7 494.5 290.2 C495.4 290.7 496.3 291.2 497.2 291.6 C498.0 292.1 498.9 292.5 499.8 292.9 C500.8 293.3 501.7 293.7 502.6 294.1 C503.5 294.4 504.4 294.8 505.4 295.1 C506.3 295.4 507.2 295.7 508.2 295.9 C509.1 296.2 510.2 296.5 511.0 296.6 C511.7 296.8 512.5 297.0 512.8 297.1" fill="none" stroke="#00e000" stroke-width="2.6" stroke-dasharray="9.1 2.83"/>
<path d="M78.1 149.4 C78.6 149.4 80.1 149.6 81.1 149.7 C82.1 149.8 83.1 149.8 84.1 149.9 C85.1 150.0 86.1 150.1 87.1 150.2 C88.1 150.2 89.1 150.3 90.1 150.4 C91.1 150.4 92.1 150.5 93.1 150.5 C94.1 150.6 95.1 150.6 96.1 150.6 C97.1 150.6 98.1 150.6 99.1 150.6 C100.1 150.6 101.1 150.6 102.1 150.6 C103.1 150.6 104.1 150.6 105.1 150.6 C106.1 150.6 107.1 150.5 108.1 150.5 C109.1 150.5 110.1 150.5 111.1 150.5 C112.1 150.4 113.1 150.4 114.1 150.4 C115.1 150.4 116.1 150.4 117.1 150.3 C118.1 150.3 119.1 150.3 120.1 150.3 C121.1 150.3 122.1 150.3 123.1 150.3 C124.1 150.3 125.1 150.2 126.1 150.2 C127.1 150.2 128.1 150.2 129.0 150.3 C130.0 150.3 131.0 150.3 132.0 150.3 C133.0 150.4 134.0 150.4 135.0 150.5 C136.0 150.6 137.0 150.6 138.0 150.7 C139.0 150.8 140.0 150.9 141.0 150.9 C142.0 151.0 143.0 151.1 144.0 151.1 C145.0 151.2 146.0 151.2 147.0 151.3 C148.0 151.3 149.0 151.3 150.0 151.4 C151.0 151.4 152.0 151.4 153.0 151.4 C154.0 151.5 155.0 151.5 156.0 151.5 C157.0 151.5 158.0 151.5 159.0 151.5 C160.0 151.5 161.0 151.5 162.0 151.5 C163.0 151.5 164.0 151.5 165.0 151.5 C166.0 151.6 167.0 151.6 168.0 151.6 C169.0 151.6 170.0 151.6 171.0 151.7 C172.0 151.7 173.0 151.7 174.0 151.8 C175.0 151.8 176.0 151.9 177.0 151.9 C178.0 152.0 179.0 152.0 180.0 152.1 C181.0 152.1 182.0 152.2 183.0 152.2 C184.0 152.3 185.0 152.3 186.0 152.4 C187.0 152.4 188.0 152.5 189.0 152.5 C190.0 152.6 191.0 152.6 192.0 152.7 C193.0 152.7 194.0 152.8 195.0 152.8 C196.0 152.9 197.0 152.9 198.0 153.0 C199.0 153.0 200.0 153.1 201.0 153.1 C202.0 153.2 203.0 153.3 204.0 153.3 C205.0 153.4 206.0 153.5 207.0 153.5 C208.0 153.6 209.0 153.7 210.0 153.7 C211.0 153.8 211.9 153.9 212.9 153.9 C213.9 154.0 214.9 154.1 215.9 154.1 C216.9 154.2 217.9 154.3 218.9 154.4 C219.9 154.4 220.9 154.5 221.9 154.6 C222.9 154.7 223.9 154.8 224.9 154.8 C225.9 154.9 226.9 155.0 227.9 155.1 C228.9 155.2 229.9 155.2 230.9 155.3 C231.9 155.4 232.9 155.5 233.9 155.6 C234.9 155.7 235.9 155.7 236.9 155.8 C237.9 155.9 238.9 156.0 239.9 156.1 C240.9 156.2 241.9 156.3 242.8 156.4 C243.8 156.5 244.8 156.5 245.8 156.6 C246.8 156.7 247.8 156.8 248.8 156.9 C249.8 157.0 250.8 157.1 251.8 157.2 C252.8 157.3 253.8 157.4 254.8 157.5 C255.8 157.6 256.8 157.7 257.8 157.7 C258.8 157.8 259.8 157.9 260.8 158.0 C261.8 158.1 262.8 158.2 263.8 158.3 C264.8 158.4 265.7 158.5 266.7 158.6 C267.7 158.7 268.7 158.7 269.7 158.8 C270.7 158.9 271.7 159.0 272.7 159.1 C273.7 159.2 274.7 159.3 275.7 159.4 C276.7 159.4 277.7 159.5 278.7 159.6 C279.7 159.7 280.7 159.8 281.7 159.8 C282.7 159.9 283.7 160.0 284.7 160.0 C285.7 160.1 286.7 160.2 287.7 160.2 C288.7 160.3 289.7 160.4 290.7 160.4 C291.7 160.5 292.7 160.5 293.7 160.6 C294.7 160.7 295.7 160.8 296.6 160.9 C297.6 161.0 299.1 161.1 299.6 161.2" fill="none" stroke="#c80000" stroke-width="1.9" stroke-dasharray="9.1 2.83"/>
<path d="M296.6 160.9 C297.1 160.9 298.6 161.1 299.6 161.2 C300.6 161.3 301.6 161.5 302.6 161.6 C303.6 161.8 304.5 162.0 305.5 162.2 C306.5 162.4 307.5 162.6 308.5 162.8 C309.4 163.1 310.4 163.3 311.4 163.5 C312.3 163.8 313.3 164.0 314.3 164.3 C315.2 164.5 316.2 164.8 317.2 165.1 C318.1 165.4 319.1 165.6 320.0 166.0 C321.0 166.3 321.9 166.6 322.8 166.9 C323.8 167.3 324.7 167.7 325.6 168.1 C326.5 168.4 327.4 168.9 328.3 169.3 C329.2 169.7 330.1 170.2 331.0 170.7 C331.9 171.1 332.8 171.6 333.6 172.1 C334.5 172.7 335.3 173.2 336.1 173.7 C337.0 174.3 337.8 174.9 338.6 175.4 C339.4 176.0 340.2 176.6 341.0 177.2 C341.8 177.8 342.6 178.5 343.3 179.1 C344.1 179.8 344.8 180.4 345.6 181.1 C346.3 181.7 347.1 182.4 347.8 183.1 C348.5 183.8 349.2 184.5 349.9 185.2 C350.7 185.9 351.4 186.6 352.0 187.3 C352.7 188.0 353.4 188.8 354.1 189.5 C354.8 190.2 355.5 191.0 356.1 191.7 C356.8 192.5 357.4 193.2 358.1 194.0 C358.7 194.7 359.4 195.5 360.0 196.3 C360.7 197.0 361.3 197.8 361.9 198.6 C362.6 199.4 363.2 200.1 363.8 200.9 C364.5 201.7 365.1 202.5 365.7 203.3 C366.3 204.1 366.9 204.8 367.5 205.6 C368.1 206.4 368.7 207.2 369.3 208.0 C370.0 208.8 370.6 209.6 371.2 210.4 C371.8 211.2 372.4 212.0 372.9 212.8 C373.5 213.6 374.1 214.4 374.7 215.2 C375.3 216.0 375.9 216.9 376.5 217.7 C377.1 218.5 377.7 219.3 378.3 220.1 C378.9 220.9 379.4 221.7 380.0 222.5 C380.6 223.3 381.2 224.1 381.8 224.9 C382.4 225.7 383.0 226.5 383.6 227.4 C384.2 228.2 384.8 229.0 385.4 229.8 C385.9 230.6 386.5 231.4 387.1 232.2 C387.7 233.0 388.3 233.8 388.9 234.6 C389.5 235.4 390.1 236.2 390.7 237.0 C391.3 237.8 391.9 238.6 392.5 239.4 C393.1 240.2 393.7 241.0 394.4 241.8 C395.0 242.6 395.6 243.3 396.2 244.1 C396.8 244.9 397.5 245.7 398.1 246.5 C398.7 247.2 399.3 248.0 400.0 248.8 C400.6 249.6 401.3 250.3 401.9 251.1 C402.6 251.8 403.2 252.6 403.9 253.3 C404.5 254.1 405.2 254.8 405.9 255.6 C406.6 256.3 407.2 257.0 407.9 257.8 C408.6 258.5 409.3 259.2 410.0 259.9 C410.7 260.6 411.4 261.3 412.1 262.0 C412.9 262.7 413.6 263.4 414.3 264.1 C415.0 264.8 415.8 265.5 416.5 266.1 C417.3 266.8 418.0 267.5 418.8 268.1 C419.5 268.8 420.3 269.4 421.1 270.1 C421.8 270.7 422.6 271.3 423.4 271.9 C424.2 272.6 425.0 273.2 425.8 273.8 C426.6 274.4 427.4 274.9 428.2 275.5 C429.0 276.1 429.8 276.7 430.7 277.2 C431.5 277.8 432.3 278.3 433.2 278.8 C434.0 279.4 434.9 279.9 435.7 280.4 C436.6 280.9 437.4 281.4 438.3 281.9 C439.2 282.4 440.1 282.9 440.9 283.4 C441.8 283.9 442.7 284.3 443.6 284.8 C444.5 285.2 445.4 285.6 446.3 286.0 C447.2 286.4 448.1 286.8 449.1 287.2 C450.0 287.6 450.9 288.0 451.8 288.3 C452.8 288.7 453.7 289.0 454.7 289.3 C455.6 289.7 456.6 290.0 457.5 290.3 C458.4 290.6 459.4 290.9 460.3 291.2 C461.3 291.5 462.2 291.7 463.2 292.0 C464.1 292.3 465.3 292.7 466.0 292.8 C466.6 293.0 466.7 293.1 466.9 293.1" fill="none" stroke="#c80000" stroke-width="2.6" stroke-dasharray="9.1 2.83" stroke-dashoffset="4.25"/>
<path d="M78.1 149.4 C78.6 149.4 80.1 149.6 81.1 149.7 C82.1 149.8 83.1 149.8 84.1 149.9 C85.1 150.0 86.1 150.1 87.1 150.2 C88.1 150.2 89.1 150.3 90.1 150.4 C91.1 150.4 92.1 150.5 93.1 150.5 C94.1 150.6 95.1 150.6 96.1 150.6 C97.1 150.6 98.1 150.6 99.1 150.6 C100.1 150.6 101.1 150.6 102.1 150.6 C103.1 150.6 104.1 150.6 105.1 150.6 C106.1 150.6 107.1 150.5 108.1 150.5 C109.1 150.5 110.1 150.5 111.1 150.5 C112.1 150.4 113.1 150.4 114.1 150.4 C115.1 150.4 116.1 150.4 117.1 150.3 C118.1 150.3 119.1 150.3 120.1 150.3 C121.1 150.3 122.1 150.3 123.1 150.3 C124.1 150.3 125.1 150.2 126.1 150.2 C127.1 150.2 128.1 150.2 129.0 150.3 C130.0 150.3 131.0 150.3 132.0 150.3 C133.0 150.4 134.0 150.4 135.0 150.5 C136.0 150.6 137.0 150.6 138.0 150.7 C139.0 150.8 140.0 150.9 141.0 150.9 C142.0 151.0 143.0 151.1 144.0 151.1 C145.0 151.2 146.0 151.2 147.0 151.3 C148.0 151.3 149.0 151.3 150.0 151.4 C151.0 151.4 152.0 151.4 153.0 151.4 C154.0 151.5 155.0 151.5 156.0 151.5 C157.0 151.5 158.0 151.5 159.0 151.5 C160.0 151.5 161.0 151.5 162.0 151.5 C163.0 151.5 164.0 151.5 165.0 151.5 C166.0 151.6 167.0 151.6 168.0 151.6 C169.0 151.6 170.0 151.6 171.0 151.7 C172.0 151.7 173.0 151.7 174.0 151.8 C175.0 151.8 176.0 151.9 177.0 151.9 C178.0 152.0 179.0 152.0 180.0 152.1 C181.0 152.1 182.0 152.2 183.0 152.2 C184.0 152.3 185.0 152.3 186.0 152.4 C187.0 152.4 188.0 152.5 189.0 152.5 C190.0 152.6 191.0 152.6 192.0 152.7 C193.0 152.7 194.0 152.8 195.0 152.8 C196.0 152.9 197.0 152.9 198.0 153.0 C199.0 153.0 200.0 153.1 201.0 153.1 C202.0 153.2 203.0 153.3 204.0 153.3 C205.0 153.4 206.0 153.5 207.0 153.5 C208.0 153.6 209.0 153.7 210.0 153.7 C211.0 153.8 211.9 153.9 212.9 153.9 C213.9 154.0 214.9 154.1 215.9 154.1 C216.9 154.2 217.9 154.3 218.9 154.4 C219.9 154.4 220.9 154.5 221.9 154.6 C222.9 154.7 223.9 154.8 224.9 154.8 C225.9 154.9 226.9 155.0 227.9 155.1 C228.9 155.2 229.9 155.2 230.9 155.3 C231.9 155.4 232.9 155.5 233.9 155.6 C234.9 155.7 235.9 155.7 236.9 155.8 C237.9 155.9 238.9 156.0 239.9 156.1 C240.9 156.2 241.9 156.3 242.8 156.4 C243.8 156.5 244.8 156.5 245.8 156.6 C246.8 156.7 247.8 156.8 248.8 156.9 C249.8 157.0 250.8 157.1 251.8 157.2 C252.8 157.3 253.8 157.4 254.8 157.5 C255.8 157.6 256.8 157.7 257.8 157.7 C258.8 157.8 259.8 157.9 260.8 158.0 C261.8 158.1 262.8 158.2 263.8 158.3 C264.8 158.4 265.7 158.5 266.7 158.6 C267.7 158.7 268.7 158.8 269.7 158.8 C270.7 158.9 271.7 159.0 272.7 159.1 C273.7 159.2 274.7 159.3 275.7 159.4 C276.7 159.5 277.7 159.5 278.7 159.6 C279.7 159.7 280.7 159.8 281.7 159.8 C282.7 159.9 283.7 160.0 284.7 160.1 C285.7 160.1 286.7 160.2 287.7 160.2 C288.7 160.3 289.7 160.4 290.7 160.4 C291.7 160.5 292.7 160.5 293.7 160.6 C294.7 160.6 295.7 160.7 296.7 160.7 C297.7 160.8 298.7 160.8 299.7 160.9 C300.7 160.9 301.7 161.0 302.7 161.0 C303.7 161.1 304.7 161.1 305.7 161.2 C306.7 161.2 307.7 161.3 308.6 161.3 C309.6 161.4 310.6 161.4 311.6 161.5 C312.6 161.5 313.6 161.6 314.6 161.6 C315.6 161.7 316.6 161.7 317.6 161.7 C318.6 161.8 319.6 161.8 320.6 161.9 C321.6 161.9 322.6 161.9 323.6 162.0 C324.6 162.0 325.6 162.0 326.6 162.1 C327.6 162.1 328.6 162.1 329.6 162.2 C330.6 162.2 331.6 162.2 332.6 162.2 C333.6 162.3 334.6 162.3 335.6 162.3 C336.6 162.3 337.6 162.3 338.6 162.3 C339.6 162.3 340.6 162.3 341.6 162.3 C342.6 162.3 343.6 162.3 344.6 162.3 C345.6 162.3 346.6 162.3 347.6 162.3 C348.6 162.3 349.6 162.2 350.6 162.2 C351.6 162.2 352.6 162.1 353.6 162.1 C354.6 162.1 355.6 162.0 356.6 162.0 C357.6 161.9 358.6 161.9 359.6 161.8 C360.6 161.8 361.6 161.7 362.6 161.6 C363.6 161.6 364.6 161.5 365.6 161.4 C366.6 161.3 367.6 161.2 368.6 161.1 C369.6 161.0 370.6 160.9 371.6 160.7 C372.6 160.6 373.5 160.5 374.5 160.3 C375.5 160.2 376.5 160.0 377.5 159.9 C378.5 159.7 379.4 159.5 380.4 159.3 C381.4 159.1 382.4 158.8 383.3 158.6 C384.3 158.3 385.2 158.0 386.2 157.7 C387.1 157.4 388.1 157.0 389.0 156.7 C389.9 156.3 390.8 155.9 391.7 155.5 C392.6 155.1 393.5 154.6 394.4 154.2 C395.3 153.7 396.2 153.2 397.0 152.7 C397.9 152.2 398.8 151.7 399.6 151.2 C400.5 150.7 401.3 150.1 402.1 149.6 C403.0 149.1 403.8 148.5 404.6 148.0 C405.5 147.4 406.3 146.8 407.1 146.3 C407.9 145.7 408.8 145.1 409.6 144.5 C410.4 144.0 411.2 143.4 412.0 142.8 C412.9 142.3 413.7 141.7 414.5 141.2 C415.4 140.6 416.2 140.1 417.1 139.6 C417.9 139.2 418.8 138.7 419.7 138.3 C420.6 137.9 421.5 137.6 422.5 137.3 C423.4 137.0 424.3 136.8 425.3 136.6 C426.3 136.5 427.2 136.4 428.2 136.4 C429.1 136.4 430.1 136.4 431.1 136.6 C432.0 136.7 432.9 137.0 433.8 137.3 C434.8 137.6 435.6 138.0 436.5 138.4 C437.3 138.9 438.2 139.4 438.9 140.0 C439.7 140.6 440.5 141.2 441.2 141.9 C441.9 142.5 442.6 143.2 443.3 144.0 C444.0 144.7 444.6 145.5 445.2 146.2 C445.8 147.0 446.4 147.8 447.0 148.6 C447.6 149.4 448.1 150.3 448.7 151.1 C449.2 152.0 449.7 152.8 450.2 153.7 C450.7 154.5 451.2 155.4 451.7 156.3 C452.2 157.1 452.7 158.0 453.2 158.9 C453.6 159.8 454.1 160.7 454.6 161.5 C455.0 162.4 455.5 163.3 455.9 164.2 C456.4 165.1 456.8 166.0 457.3 166.9 C457.7 167.8 458.2 168.7 458.6 169.6 C459.1 170.5 459.5 171.4 460.0 172.3 C460.4 173.2 460.9 174.0 461.3 174.9 C461.8 175.8 462.2 176.7 462.7 177.6 C463.1 178.5 463.6 179.4 464.0 180.3 C464.4 181.2 464.9 182.1 465.3 183.0 C465.7 183.9 466.2 184.8 466.6 185.7 C467.0 186.6 467.5 187.5 467.9 188.4 C468.3 189.3 468.7 190.2 469.1 191.1 C469.6 192.1 470.0 193.0 470.4 193.9 C470.8 194.8 471.2 195.7 471.6 196.6 C472.0 197.5 472.4 198.5 472.8 199.4 C473.2 200.3 473.6 201.2 473.9 202.1 C474.3 203.1 474.7 204.0 475.1 204.9 C475.5 205.8 475.9 206.7 476.3 207.7 C476.6 208.6 477.0 209.5 477.4 210.4 C477.8 211.4 478.2 212.3 478.6 213.2 C478.9 214.1 479.3 215.1 479.7 216.0 C480.1 216.9 480.5 217.8 480.8 218.8 C481.2 219.7 481.6 220.6 482.0 221.5 C482.4 222.5 482.8 223.4 483.1 224.3 C483.5 225.2 483.9 226.2 484.3 227.1 C484.7 228.0 485.1 228.9 485.4 229.8 C485.8 230.8 486.2 231.7 486.6 232.6 C487.0 233.5 487.4 234.5 487.7 235.4 C488.1 236.3 488.5 237.2 488.9 238.2 C489.3 239.1 489.6 240.0 490.0 240.9 C490.4 241.9 490.8 242.8 491.2 243.7 C491.5 244.6 491.9 245.6 492.3 246.5 C492.7 247.4 493.0 248.4 493.4 249.3 C493.8 250.2 494.1 251.1 494.5 252.1 C494.9 253.0 495.3 253.9 495.7 254.8 C496.0 255.8 496.4 256.7 496.8 257.6 C497.2 258.5 497.6 259.4 498.1 260.3 C498.5 261.2 498.9 262.1 499.3 263.0 C499.8 263.9 500.2 264.8 500.7 265.7 C501.2 266.6 501.6 267.5 502.1 268.4 C502.6 269.2 503.1 270.1 503.6 271.0 C504.1 271.8 504.6 272.7 505.1 273.6 C505.6 274.4 506.1 275.3 506.6 276.2 C507.1 277.0 507.6 277.9 508.1 278.8 C508.6 279.6 509.1 280.5 509.6 281.3 C510.1 282.2 510.6 283.1 511.2 283.9 C511.7 284.7 512.2 285.6 512.8 286.4 C513.4 287.2 513.9 288.1 514.5 288.9 C515.1 289.7 515.7 290.4 516.4 291.2 C517.0 292.0 517.7 292.7 518.3 293.5 C519.0 294.2 519.7 294.9 520.4 295.6 C521.1 296.3 521.9 296.9 522.7 297.6 C523.4 298.2 524.2 298.8 525.0 299.4 C525.8 299.9 526.7 300.5 527.5 301.0 C528.4 301.5 529.2 301.9 530.1 302.3 C531.0 302.8 531.8 303.2 532.7 303.5 C533.6 303.9 534.4 304.2 535.3 304.5 C536.1 304.8 537.4 305.3 537.8 305.4" fill="none" stroke="#000000" stroke-width="2.7" stroke-dasharray="9.1 2.83"/>
</g>
<g stroke="#000" stroke-width="2.0" fill="none"><path d="M129.2 386.8 V381.3 M129.2 12.9 V18.4"/><path d="M231.4 386.8 V381.3 M231.4 12.9 V18.4"/><path d="M333.6 386.8 V381.3 M333.6 12.9 V18.4"/><path d="M435.9 386.8 V381.3 M435.9 12.9 V18.4"/><path d="M538.1 386.8 V381.3 M538.1 12.9 V18.4"/><path d="M78.1 324.5 H83.6 M589.2 324.5 H583.7"/><path d="M78.1 262.2 H83.6 M589.2 262.2 H583.7"/><path d="M78.1 199.8 H83.6 M589.2 199.8 H583.7"/><path d="M78.1 137.5 H83.6 M589.2 137.5 H583.7"/><path d="M78.1 75.2 H83.6 M589.2 75.2 H583.7"/></g>
<rect x="78.1" y="12.9" width="511.1" height="373.9" fill="none" stroke="#000" stroke-width="2.1"/>
<g><text transform="translate(129.21,408.20) scale(1,1.045)" font-size="20.80" text-anchor="middle">-1.5</text><text transform="translate(231.43,408.20) scale(1,1.045)" font-size="20.80" text-anchor="middle">-1</text><text transform="translate(333.65,408.20) scale(1,1.045)" font-size="20.80" text-anchor="middle">-0.5</text><text transform="translate(435.87,408.20) scale(1,1.045)" font-size="20.80" text-anchor="middle">0</text><text transform="translate(538.09,408.20) scale(1,1.045)" font-size="20.80" text-anchor="middle">0.5</text><text transform="translate(69.50,392.90) scale(1,1.045)" font-size="20.80" text-anchor="end">140</text><text transform="translate(69.50,330.58) scale(1,1.045)" font-size="20.80" text-anchor="end">160</text><text transform="translate(69.50,268.27) scale(1,1.045)" font-size="20.80" text-anchor="end">180</text><text transform="translate(69.50,205.95) scale(1,1.045)" font-size="20.80" text-anchor="end">200</text><text transform="translate(69.50,143.63) scale(1,1.045)" font-size="20.80" text-anchor="end">220</text><text transform="translate(69.50,81.32) scale(1,1.045)" font-size="20.80" text-anchor="end">240</text><text transform="translate(69.50,19.00) scale(1,1.045)" font-size="20.80" text-anchor="end">260</text></g>
<g><path d="M94.3 29.6 H143.2" stroke="#0000e0" stroke-width="2.35" fill="none"/><text transform="translate(153.30,36.30) scale(1,1.040)" font-size="20.50" text-anchor="start">low [<tspan class="al">α</tspan>/Fe]</text><path d="M94.3 52.0 H143.2" stroke="#00e000" stroke-width="2.35" fill="none"/><text transform="translate(153.30,58.75) scale(1,1.040)" font-size="20.50" text-anchor="start">interm. [<tspan class="al">α</tspan>/Fe]</text><path d="M94.3 74.5 H143.2" stroke="#c80000" stroke-width="2.35" fill="none"/><text transform="translate(153.30,81.20) scale(1,1.040)" font-size="20.50" text-anchor="start">high [<tspan class="al">α</tspan>/Fe]</text><path d="M94.3 97.0 H143.2" stroke="#000" stroke-width="2.35" fill="none"/><text transform="translate(153.30,103.65) scale(1,1.040)" font-size="20.50" text-anchor="start">all</text><path d="M94.3 119.4 H143.2" stroke="#000" stroke-width="2.35" fill="none" stroke-dasharray="9.0 2.8"/><text transform="translate(153.30,126.10) scale(1,1.040)" font-size="20.50" text-anchor="start">no inside-out</text></g>
<text transform="translate(333.50,432.80) scale(1,1.000)" font-size="23.40" text-anchor="middle">[Fe/H]</text>
<g transform="translate(20,256.8) rotate(-90) scale(1,1.04)"><text x="-0.6" y="0" font-size="23.4">[</text><text x="7.2" y="0" font-size="23.4">V</text><text x="21.9" y="6.5" font-size="17.5" class="sym">ϕ</text><text x="37.6" y="0" font-size="23.4" letter-spacing="-0.2">/ kms</text><text x="94.0" y="-7.6" font-size="15">-1</text><text x="107.9" y="0" font-size="23.4">]</text></g>
</svg>
</body></html>
